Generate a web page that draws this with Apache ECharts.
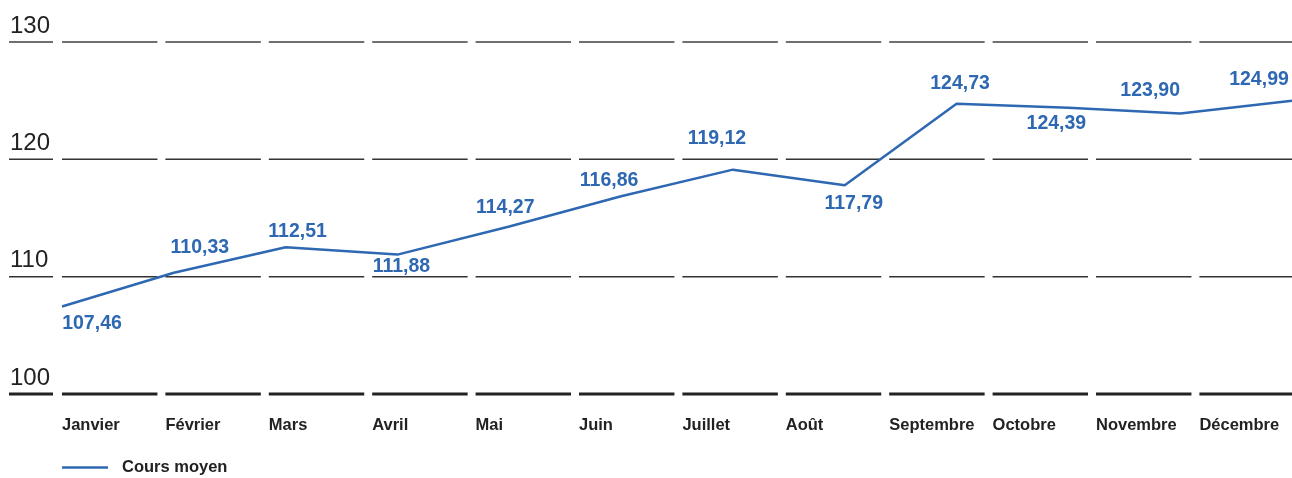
<!DOCTYPE html>
<html><head><meta charset="utf-8">
<script src="https://cdn.jsdelivr.net/npm/echarts@6/dist/echarts.min.js"></script>
<style>html,body{margin:0;padding:0;background:#fff}#c{width:1292px;height:478px}</style>
</head><body><div id="c"></div>
<script>
const months = ['Janvier','Février','Mars','Avril','Mai','Juin','Juillet','Août','Septembre','Octobre','Novembre','Décembre'];
const coursMoyen = [107.46,110.33,112.51,111.88,114.27,116.86,119.12,117.79,124.73,124.39,123.90,124.99];
const yTicks = [100,110,120,130];
const seriesName = 'Cours moyen';
// label offsets (px) relative to each point
const labelOffsets = [[30,17],[26,-25],[12,-16],[4,12],[-4,-19],[-12,-16],[-16,-31],[9,18],[3.5,-20],[-12,16],[-30,-23],[-33,-21]];

const BLUE = '#2e68b2';
const FONT = '"Liberation Sans", Arial, sans-serif';
const fmt = v => v.toFixed(2).replace('.', ',');

const gridData = [];
months.forEach((m, i) => yTicks.forEach(t => gridData.push([i, t])));

const chart = echarts.init(document.getElementById('c'), null, {renderer:'canvas'});
chart.setOption({
  animation: false,
  textStyle: {fontFamily: FONT},
  grid: [
    {left: 62, right: 92.6, top: 42, bottom: 84},
    {left: 62, right: 0, top: 42, bottom: 84}
  ],
  xAxis: [
    {type:'category', gridIndex:0, data: months, boundaryGap:false,
     axisLine:{show:false}, axisTick:{show:false}, splitLine:{show:false},
     axisLabel:{align:'left', margin:23, color:'#222', fontSize:16.5, fontWeight:'bold', fontFamily:FONT, interval:0}},
    {type:'category', gridIndex:1, data: months, boundaryGap:false, show:false}
  ],
  yAxis: [
    {type:'value', gridIndex:0, min:100, max:130, interval:10,
     axisLine:{show:false}, axisTick:{show:false}, splitLine:{show:false},
     axisLabel:{align:'left', margin:52, verticalAlign:'bottom', padding:[0,0,4,0], color:'#222', fontSize:24, fontFamily:FONT}},
    {type:'value', gridIndex:1, min:100, max:130, interval:10, show:false}
  ],
  legend: {
    left: 62, top: 459, padding: 0, itemWidth: 46, itemHeight: 2.5, itemGap: 20,
    icon: 'rect',
    textStyle: {fontSize:16.5, fontWeight:'bold', color:'#222', fontFamily:FONT, padding:[2,0,0,9]},
    data: [{name: seriesName, itemStyle:{color:BLUE}}]
  },
  series: [
    {
      type:'custom', xAxisIndex:0, yAxisIndex:0, clip:false, silent:true,
      data: gridData,
      renderItem: function(params, api) {
        const i = api.value(0), t = api.value(1);
        const p = api.coord([i, t]);
        const step = api.size([1, 0])[0];
        const seg = step * 0.923;
        let color = '#333', w = 1.5;
        if (t === 130) { color = '#707070'; w = 2; }
        if (t === 100) { color = '#222'; w = 3; }
        const children = [{type:'line', shape:{x1:p[0], y1:p[1], x2:p[0]+seg, y2:p[1]}, style:{stroke:color, lineWidth:w}}];
        if (i === 0) {
          children.push({type:'line', shape:{x1:p[0]-53, y1:p[1], x2:p[0]-9, y2:p[1]}, style:{stroke:color, lineWidth:w}});
        }
        return {type:'group', children: children};
      }
    },
    {
      name: seriesName, type:'line', xAxisIndex:1, yAxisIndex:1,
      data: coursMoyen.map((v, i) => ({value: v, label: {offset: labelOffsets[i]}})),
      showSymbol: true, symbol:'circle', symbolSize: 0.1,
      itemStyle:{color: BLUE},
      lineStyle:{color: BLUE, width: 2.5},
      label:{show:true, position:'inside', formatter: p => fmt(p.value), color: BLUE, fontSize:19.5, fontWeight:'bold', fontFamily:FONT},
      z: 5
    }
  ]
});
</script></body></html>
